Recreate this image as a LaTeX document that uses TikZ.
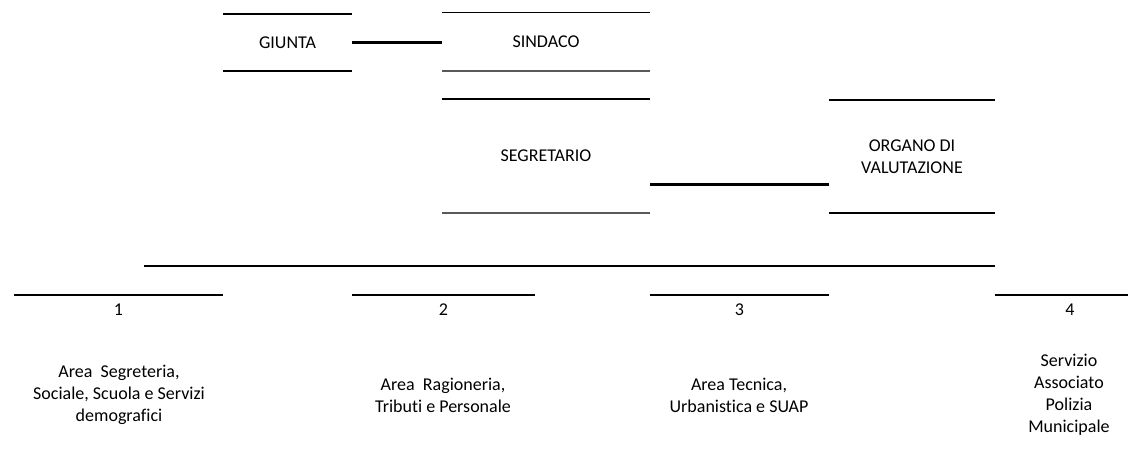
\documentclass[tikz,border=0pt]{standalone}
\usepackage{fontspec}
\setmainfont{Carlito}[Ligatures=NoCommon]

\begin{document}
\begin{tikzpicture}[x=1pt,y=-1pt,
	every node/.style={font=\fontsize{18}{22}\selectfont},
	box/.style={inner sep=0pt,align=center},
	heavy/.style={line width=2.4pt},
	light/.style={line width=1.1pt},
	grey/.style={line width=1.6pt,black!65}]
	\useasboundingbox (0,0) rectangle (1128,465);
	\node[box,minimum width=129,minimum height=57] (giunta) at (287.5,42.5) {GIUNTA};
	\draw[heavy] (giunta.north west) -- (giunta.north east);
	\draw[heavy] (giunta.south west) -- (giunta.south east);
	\node[box,minimum width=208,minimum height=58] (sindaco) at (546,42) {SINDACO};
	\draw[light] (sindaco.north west) -- (sindaco.north east);
	\draw[grey] (sindaco.south west) -- (sindaco.south east);
	\node[box,minimum width=208,minimum height=113.5] (segretario) at (546,156) {SEGRETARIO};
	\draw[light] (segretario.north west) -- (segretario.north east);
	\draw[grey] (segretario.south west) -- (segretario.south east);
	\node[box,minimum width=166,minimum height=113] (organo) at (912,156.5) {ORGANO DI\\VALUTAZIONE};
	\draw[heavy] (organo.north west) -- (organo.north east);
	\draw[heavy] (organo.south west) -- (organo.south east);
	\draw[heavy] (giunta.east) -- (giunta.east -| sindaco.west);
	\draw[heavy] ([yshift=-28.5pt]segretario.east) -- ([yshift=-28.5pt]segretario.east -| organo.west);
	\coordinate (bus) at (144,266);
	\draw[heavy] (bus) -- (bus -| organo.east);
	\node[box,minimum width=209,minimum height=30] (area1) at (118.5,310) {1};
	\node[box,minimum width=183,minimum height=30] (area2) at (443.5,310) {2};
	\node[box,minimum width=179,minimum height=30] (area3) at (739.5,310) {3};
	\node[box,minimum width=150,minimum height=30] (area4) at (1070,310) {4};
	\foreach \a in {area1,area2,area3,area4}
		\draw[heavy] (\a.north west) -- (\a.north east);
	\node[box] (desc1) at (119,395) {Area\ \ Segreteria,\\Sociale, Scuola e Servizi\\demografici};
	\node[box] (desc2) at (443,395) {Area\ \ Ragioneria,\\Tributi e Personale};
	\node[box] (desc3) at (739,395) {Area Tecnica,\\Urbanistica e SUAP};
	\node[box] (desc4) at (1069,395) {Servizio\\Associato\\Polizia\\Municipale};
\end{tikzpicture}
\end{document}
